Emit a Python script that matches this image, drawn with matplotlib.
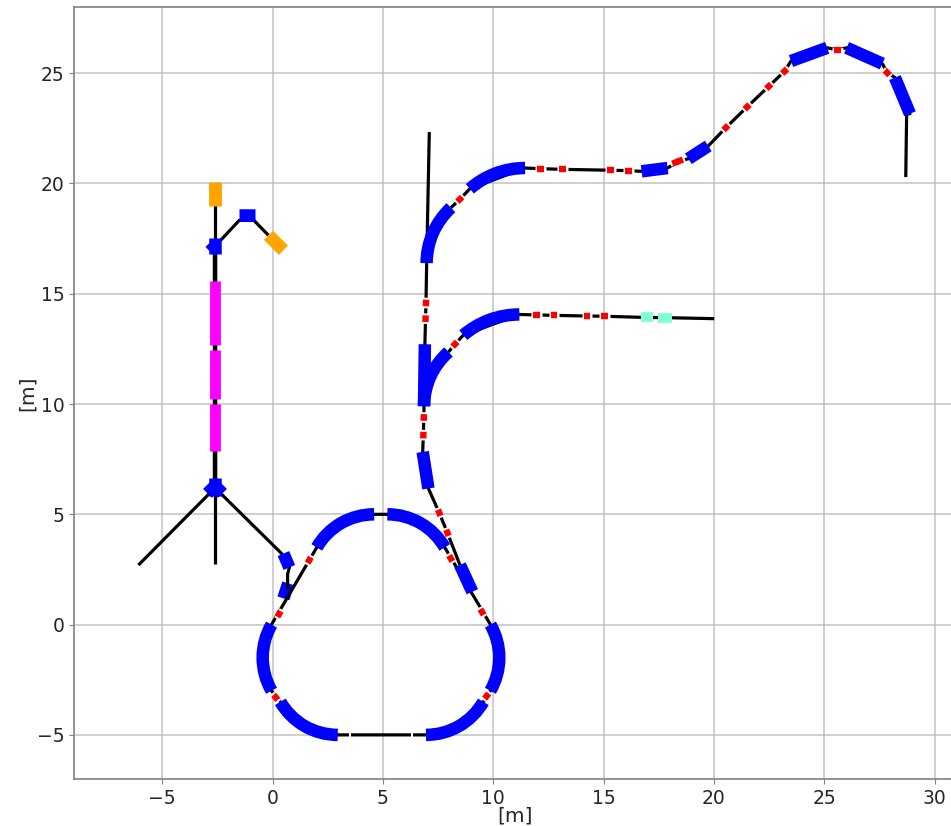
import numpy as np
import matplotlib
matplotlib.use("Agg")
import matplotlib.pyplot as plt
from matplotlib.patches import Arc

# beam lines [m]
ring_x = [4.6, 3.1, 2.0, -0.05, -0.47, -0.05, 0.35, 1.45, 2.95,
          6.95, 8.45, 9.55, 9.87, 10.27, 9.87, 7.8, 6.7, 5.2, 4.6]
ring_y = [5.0, 4.6, 3.5, 0.0, -1.5, -3.0, -3.5, -4.6, -5.0,
          -5.0, -4.6, -3.5, -3.0, -1.5, 0.0, 3.5, 4.6, 5.0, 5.0]

main_x = [8.75, 8.49, 7.92, 7.55, 7.06, 6.8, 6.83, 6.85, 6.86, 6.9, 6.93, 6.95, 6.98, 7.1]
main_y = [2.1, 2.7, 4.16, 5.07, 6.17, 7.83, 8.59, 9.39, 9.9, 12.71, 13.87, 14.58, 16.39, 22.33]

low_x = [7.97, 8.26, 8.64, 11.18, 11.95, 12.75, 14.25, 15.05, 16.7, 18.08, 20.01]
low_y = [12.36, 12.71, 13.12, 14.06, 14.04, 14.02, 13.99, 13.98, 13.93, 13.91, 13.87]

up_x = [8.08, 8.48, 8.94, 11.44, 12.13, 13.13, 15.3, 16.12, 16.72, 17.9,
        18.35, 18.84, 19.74, 20.54, 21.5, 22.48, 23.2, 23.49, 25.13, 25.6, 26.01, 27.63, 27.85, 28.2, 28.88, 28.73, 28.69]
up_y = [18.9, 19.28, 19.76, 20.7, 20.67, 20.64, 20.6, 20.58, 20.55, 20.7,
        20.99, 21.12, 21.7, 22.53, 23.47, 24.4, 25.09, 25.55, 26.15, 26.05, 26.15, 25.43, 25.02, 24.8, 23.16, 23.16, 20.29]

# linac stem and transfer lines
stem_x = [-2.61, -2.61]
stem_y = [2.77, 19.1]
stem_thick_y = [6.3, 17.0]
left_x = [-2.61, -6.08]
left_y = [6.2, 2.7]
right_x = [-2.61, 0.41, 0.76, 0.68, 0.68]
right_y = [6.2, 3.22, 2.59, 2.3, 1.6]
side_x = [-2.61, -1.51, -0.85, -0.19]
side_y = [17.15, 18.33, 18.33, 17.65]

# curved bends: centre x, centre y, radius, start angle, end angle
arc_cx = [4.6, 5.2, 2.55, 7.27, 2.95, 6.95, 10.14, 11.18, 10.39, 11.44]
arc_cy = [2.0, 2.0, -1.5, -1.5, -2.0, -2.0, 9.9, 10.16, 16.39, 16.91]
arc_r = [3.0, 3.0, 3.0, 3.0, 3.0, 3.0, 3.28, 3.9, 3.41, 3.79]
arc_start = [90, 30, 150, -30, 210, 270, 131.4, 90, 132.6, 90]
arc_end = [150, 90, 210, 30, 270, 330, 180, 130.6, 180, 131.3]

# straight bends
bend_x = [[8.49, 9.05], [6.8, 7.06], [6.86, 6.9], [16.72, 17.9], [18.84, 19.74], [23.49, 25.13],
          [26.01, 27.63], [28.2, 28.88], [0.49, 0.76], [-1.54, -0.81],
          [-2.61, -2.61], [-2.95, -2.65], [-2.27, -2.57], [-2.61, -2.61], [-2.85, -2.55]]
bend_y = [[2.7, 1.49], [7.83, 6.17], [9.9, 12.71], [20.55, 20.7], [21.12, 21.7], [25.55, 26.15],
          [26.15, 25.43], [24.8, 23.16], [3.22, 2.59], [18.55, 18.55],
          [5.85, 6.64], [5.95, 6.25], [5.95, 6.25], [16.82, 17.53], [16.92, 17.2]]
hidden_bend_x = [0.71, 0.49]
hidden_bend_y = [1.87, 1.19]

# quadrupoles: centre and beam direction in degrees
quad_x = [1.66, 0.29, 0.14, 9.7, 9.49, 8.07, 7.55, 7.92, 6.83, 6.85, 6.93, 6.95, 8.26, 8.48,
          11.95, 12.75, 14.25, 15.05, 12.13, 13.13, 15.3, 16.12, 18.25, 18.45,
          20.54, 21.5, 22.48, 23.2, 25.6, 27.85]
quad_y = [2.92, 0.48, -3.3, -3.24, 0.57, 3.0, 5.07, 4.16, 8.59, 9.39, 13.87, 14.58, 12.71, 19.28,
          14.04, 14.02, 13.99, 13.98, 20.67, 20.64, 20.6, 20.58, 20.95, 21.03,
          22.53, 23.47, 24.4, 25.09, 26.05, 25.02]
quad_dir = [60, 60, 130, 50, 120, 120, 112, 112, 88, 88, 88, 88, 46, 44,
            0, 0, 0, 0, 0, 0, 0, 0, 20, 20,
            45, 44, 44, 44, 0, -45]

# small breaks in the bottom straight
gap_x = [3.5, 6.3]
gap_y = [-5.0, -5.0]

# cavities
cav_x = [[-2.61, -2.61], [-2.61, -2.61], [-2.61, -2.61]]
cav_y = [[12.66, 15.6], [10.25, 12.44], [7.86, 10.02]]
# targets
dump_x = [[-2.61, -2.61], [-0.19, 0.49]]
dump_y = [[19.0, 20.06], [17.65, 16.97]]
# undulators
und_x = [[16.7, 17.22], [17.45, 18.08]]
und_y = [[13.93, 13.93], [13.91, 13.91]]

xticks = [-5, 0, 5, 10, 15, 20, 25, 30]
yticks = [-5, 0, 5, 10, 15, 20, 25]

W, H = 951, 826
fig = plt.figure(figsize=(W / 100, H / 100), dpi=100)
ax = fig.add_axes([74 / W, (H - 779) / H, (W - 74) / W, 772 / H])

LW_LINE = 2.3
BLUE_LW = 9

ax.plot(hidden_bend_x, hidden_bend_y, color="blue", lw=BLUE_LW, solid_capstyle="butt", zorder=2)
for xs, ys in [(ring_x, ring_y), (main_x, main_y), (low_x, low_y), (up_x, up_y), (stem_x, stem_y),
               (left_x, left_y), (right_x, right_y), (side_x, side_y)]:
    ax.plot(xs, ys, color="black", lw=LW_LINE, solid_capstyle="butt", zorder=3)
ax.plot(stem_x, stem_thick_y, color="black", lw=3.2, solid_capstyle="butt", zorder=3)

for x, y in zip(gap_x, gap_y):
    ax.plot([x - 0.04, x + 0.04], [y, y], color="white", lw=3, solid_capstyle="butt", zorder=4)

for cx, cy, r, t1, t2 in zip(arc_cx, arc_cy, arc_r, arc_start, arc_end):
    ax.add_patch(Arc((cx, cy), 2 * r, 2 * r, theta1=t1, theta2=t2, color="blue", lw=BLUE_LW, capstyle="butt", zorder=5))
for xs, ys in zip(bend_x, bend_y):
    ax.plot(xs, ys, color="blue", lw=BLUE_LW, solid_capstyle="butt", zorder=5)

for x, y, d in zip(quad_x, quad_y, quad_dir):
    dx, dy = np.cos(np.radians(d)), np.sin(np.radians(d))
    ax.plot([x - 0.24 * dx, x + 0.24 * dx], [y - 0.24 * dy, y + 0.24 * dy], color="white", lw=3.4, solid_capstyle="butt", zorder=4)
    ax.plot([x - 0.15 * dx, x + 0.15 * dx], [y - 0.15 * dy, y + 0.15 * dy], color="red", lw=4.6, solid_capstyle="butt", zorder=6)

for xs, ys in zip(cav_x, cav_y):
    ax.plot(xs, ys, color="magenta", lw=7.8, solid_capstyle="butt", zorder=5)
for xs, ys in zip(dump_x, dump_y):
    ax.plot(xs, ys, color="orange", lw=9.3, solid_capstyle="butt", zorder=5)
for xs, ys in zip(und_x, und_y):
    ax.plot(xs, ys, color="aquamarine", lw=7, solid_capstyle="butt", zorder=5)

ax.set_xlim(-9, 30.74)
ax.set_ylim(-7, 28)
ax.set_xticks(xticks)
ax.set_yticks(yticks)
ax.grid(True, color="#b0b0b0", lw=1.2, alpha=0.7)
ax.set_axisbelow(True)
ax.tick_params(labelsize=13.5, color="#808080", labelcolor="#262626", length=3.5)
ax.set_xlabel("[m]", fontsize=14.5, color="#262626", labelpad=-1, x=0.503)
ax.set_ylabel("[m]", fontsize=14.5, color="#262626", labelpad=0)
for name, spine in ax.spines.items():
    spine.set_color("#808080")
    spine.set_linewidth(1.2)
ax.spines["right"].set_visible(False)

fig.savefig("out.png", dpi=100)
